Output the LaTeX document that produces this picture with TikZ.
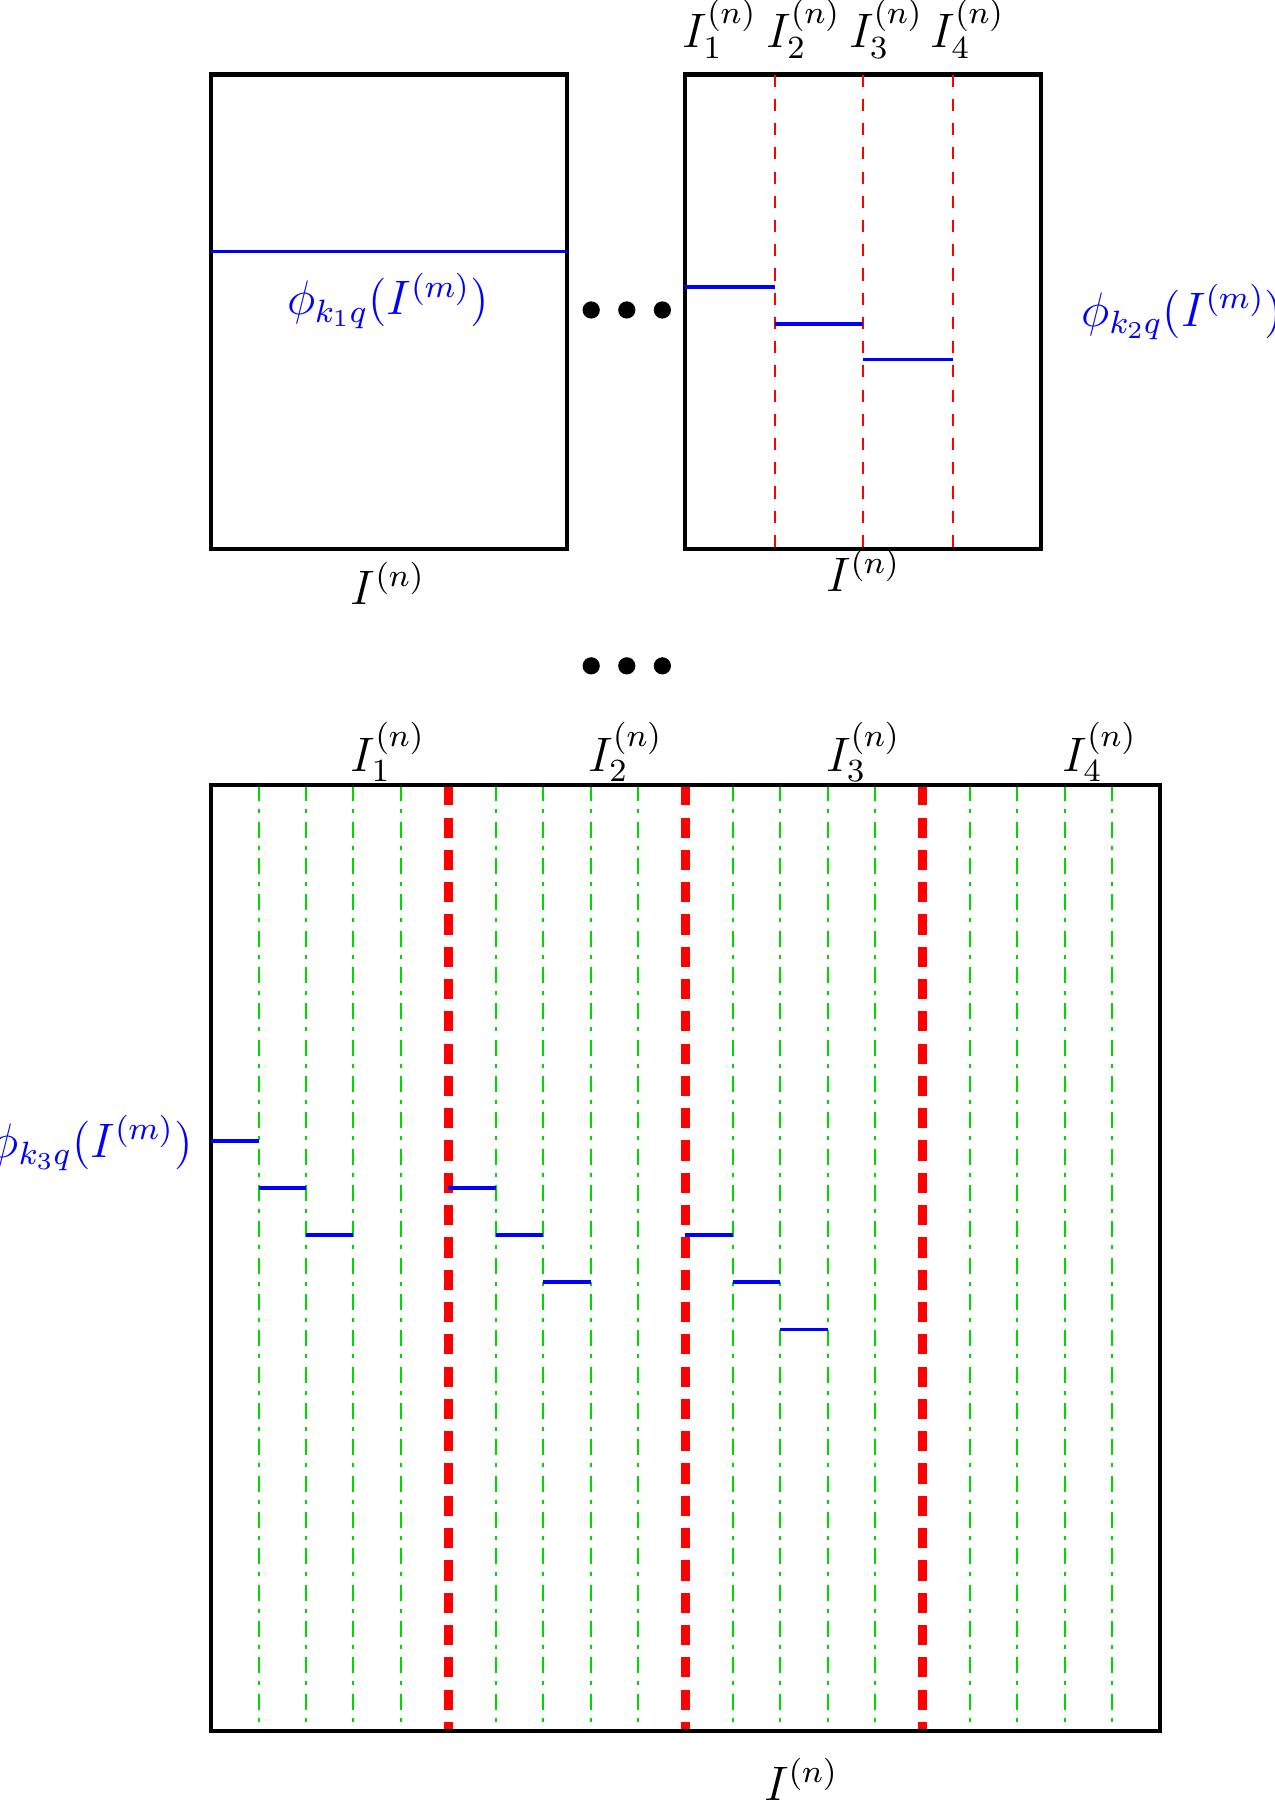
\documentclass[tikz,border=0pt]{standalone}
\begin{document}
\begin{tikzpicture}[x=0.01cm,y=-0.01cm,
  box/.style={draw,line width=1pt},
  bstep/.style={blue,line width=0.9pt},
  redd/.style={red,dashed,line width=0.5pt},
  redt/.style={red,line width=2.2pt,dash pattern=on 5pt off 3pt},
  grn/.style={green!85!black,dash pattern=on 4pt off 2pt on 1pt off 2pt,line width=0.5pt},
  lab/.style={inner sep=0pt,font=\fontsize{11.5}{14}\selectfont},
  dot/.style={circle,fill,inner sep=0pt,minimum size=0.15cm}]
\useasboundingbox (0,0) rectangle (1110,1568);
% top left
\node[box,minimum width=3.1cm,minimum height=4.13cm,inner sep=0pt] (A) at (339,271.5) {};
\draw[bstep] (184,219) -- (494,219);
\node[lab,blue] (pa) at (338,262) {$\phi_{k_1q}(I^{(m)})$};
\node[lab] (na) at (338,508) {$I^{(n)}$};
\node[dot] (d1) at (515,270) {}; \node[dot] (d2) at (546,270) {}; \node[dot] (d3) at (577,270) {};
% top right
\node[box,minimum width=3.1cm,minimum height=4.13cm,inner sep=0pt] (B) at (752,271.5) {};
\foreach \x in {675,752,830} \draw[redd] (\x,65) -- (\x,478);
\draw[bstep] (597,250) -- (675,250);
\draw[bstep] (675,282) -- (752,282);
\draw[bstep] (752,313) -- (830,313);
\foreach \i/\x in {1/627,2/700,3/772,4/843} \node[lab] (t\i) at (\x,25) {$I_{\i}^{(n)}$};
\node[lab,blue] (pb) at (1030,272) {$\phi_{k_2q}(I^{(m)})$};
\node[lab] (nb) at (752,497) {$I^{(n)}$};
\node[dot] (e1) at (515,580) {}; \node[dot] (e2) at (546,580) {}; \node[dot] (e3) at (577,580) {};
% bottom
\foreach \k in {1,...,19}{
  \pgfmathsetmacro\xx{184+41.3*\k}
  \pgfmathtruncatemacro\m{mod(\k,5)}
  \ifnum\m=0 \draw[redt] (\xx,684) -- (\xx,1508);
  \else \draw[grn] (\xx,684) -- (\xx,1508); \fi}
\node[box,minimum width=8.26cm,minimum height=8.24cm,inner sep=0pt] (C) at (597,1096) {};
\foreach \k/\yy in {0/994,1/1035,2/1076,5/1035,6/1076,7/1117,10/1076,11/1117,12/1158}
  \draw[bstep] ({184+41.3*\k},\yy) -- ({184+41.3*(\k+1)},\yy);
\foreach \i/\x in {1/338,2/545,3/752,4/958} \node[lab] (b\i) at (\x,655) {$I_{\i}^{(n)}$};
\node[lab,blue] (pc) at (80,996) {$\phi_{k_3q}(I^{(m)})$};
\node[lab] (nc) at (698,1550) {$I^{(n)}$};
\end{tikzpicture}
\end{document}
